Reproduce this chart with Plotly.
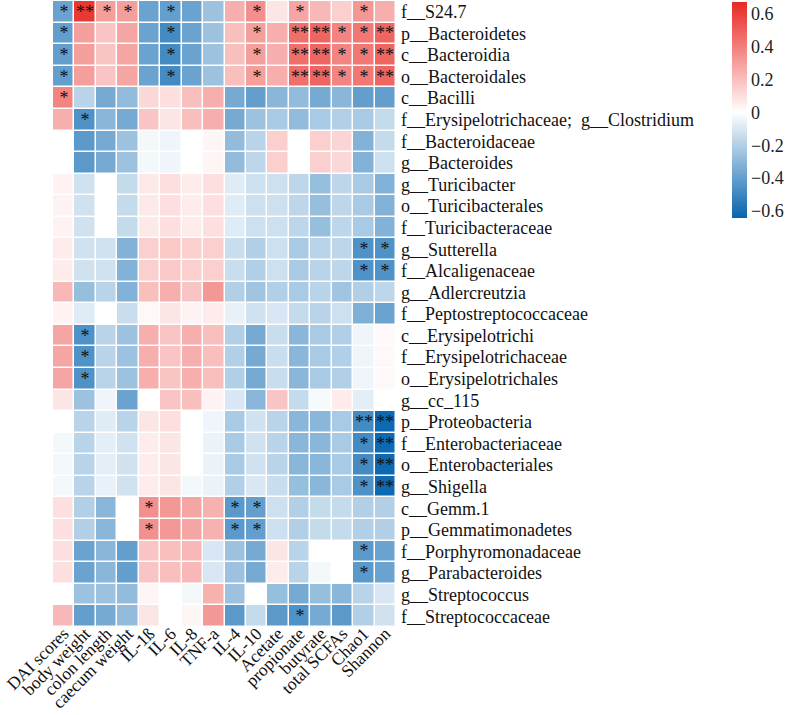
import plotly.graph_objects as go

columns = ["DAI scores", "body weight", "colon length", "caecum weight", "IL-1ß", "IL-6", "IL-8",
           "TNF-a", "IL-4", "IL-10", "Acetate", "propionate", "butyrate", "total SCFAs", "Chao1", "Shannon"]

rows = ["f__S24.7", "p__Bacteroidetes", "c__Bacteroidia", "o__Bacteroidales", "c__Bacilli",
        "f__Erysipelotrichaceae;\u00a0\u00a0g__Clostridium", "f__Bacteroidaceae", "g__Bacteroides",
        "g__Turicibacter", "o__Turicibacterales", "f__Turicibacteraceae", "g__Sutterella",
        "f__Alcaligenaceae", "g__Adlercreutzia", "f__Peptostreptococcaceae", "c__Erysipelotrichi",
        "f__Erysipelotrichaceae", "o__Erysipelotrichales", "g__cc_115", "p__Proteobacteria",
        "f__Enterobacteriaceae", "o__Enterobacteriales", "g__Shigella", "c__Gemm.1",
        "p__Gemmatimonadetes", "f__Porphyromonadaceae", "g__Parabacteroides",
        "g__Streptococcus", "f__Streptococcaceae"]

values = [
    [-0.38, 0.62, 0.30, 0.30, -0.38, -0.40, -0.38, -0.25, 0.25, 0.35, 0.08, 0.28, 0.22, 0.15, 0.32, 0.25],
    [-0.40, 0.30, 0.18, 0.28, -0.38, -0.48, -0.38, -0.25, 0.20, 0.30, 0.25, 0.45, 0.48, 0.38, 0.42, 0.48],
    [-0.40, 0.30, 0.18, 0.28, -0.38, -0.48, -0.38, -0.25, 0.20, 0.30, 0.25, 0.45, 0.48, 0.38, 0.42, 0.48],
    [-0.40, 0.30, 0.18, 0.28, -0.38, -0.48, -0.38, -0.25, 0.20, 0.30, 0.25, 0.45, 0.48, 0.38, 0.42, 0.48],
    [0.38, -0.18, -0.35, -0.28, 0.12, 0.10, 0.20, 0.25, -0.35, -0.40, -0.30, -0.28, -0.35, -0.30, -0.40, -0.40],
    [0.25, -0.45, -0.30, -0.35, 0.18, 0.08, 0.20, 0.25, -0.35, -0.25, -0.22, -0.28, -0.22, -0.20, -0.22, -0.15],
    [0.00, -0.42, -0.35, -0.25, -0.03, -0.04, 0.00, 0.03, -0.28, -0.18, 0.15, 0.00, 0.15, 0.13, -0.32, -0.15],
    [0.00, -0.42, -0.35, -0.25, -0.03, -0.04, 0.00, 0.03, -0.28, -0.17, 0.15, 0.00, 0.15, 0.12, -0.32, -0.13],
    [0.04, -0.12, 0.00, -0.15, 0.07, 0.10, 0.06, 0.10, -0.08, -0.13, -0.13, -0.17, -0.27, -0.17, -0.22, -0.32],
    [0.04, -0.12, 0.00, -0.15, 0.07, 0.10, 0.06, 0.10, -0.08, -0.13, -0.13, -0.17, -0.27, -0.17, -0.22, -0.32],
    [0.04, -0.12, 0.00, -0.15, 0.07, 0.10, 0.06, 0.10, -0.08, -0.13, -0.13, -0.17, -0.27, -0.17, -0.22, -0.32],
    [0.06, -0.12, -0.12, -0.32, 0.15, 0.17, 0.15, 0.15, -0.14, -0.20, -0.13, -0.22, -0.18, -0.17, -0.45, -0.45],
    [0.06, -0.12, -0.12, -0.32, 0.15, 0.17, 0.15, 0.15, -0.14, -0.20, -0.13, -0.22, -0.18, -0.17, -0.45, -0.45],
    [0.22, -0.27, -0.18, -0.32, 0.20, 0.25, 0.18, 0.32, -0.20, -0.24, -0.20, -0.22, -0.18, -0.24, -0.20, -0.17],
    [0.04, -0.08, 0.00, -0.14, 0.02, 0.08, 0.04, 0.06, -0.06, -0.12, -0.10, -0.15, -0.18, -0.13, -0.33, -0.38],
    [0.28, -0.45, -0.18, -0.25, 0.25, 0.18, 0.25, 0.20, -0.20, -0.35, -0.14, -0.30, -0.22, -0.20, -0.04, 0.02],
    [0.28, -0.45, -0.18, -0.25, 0.25, 0.18, 0.25, 0.20, -0.20, -0.35, -0.14, -0.30, -0.22, -0.20, -0.04, 0.02],
    [0.28, -0.45, -0.18, -0.25, 0.25, 0.18, 0.25, 0.20, -0.20, -0.35, -0.14, -0.30, -0.22, -0.20, -0.04, 0.02],
    [0.08, -0.25, -0.04, -0.38, 0.00, 0.18, 0.20, 0.04, -0.10, -0.30, 0.18, -0.15, -0.02, 0.06, -0.07, 0.00],
    [0.00, -0.18, -0.08, -0.18, 0.08, 0.10, 0.00, -0.04, -0.22, -0.12, -0.18, -0.30, -0.30, -0.22, -0.48, -0.62],
    [-0.03, -0.18, -0.07, -0.12, 0.06, 0.08, 0.00, -0.05, -0.22, -0.12, -0.18, -0.30, -0.30, -0.22, -0.48, -0.62],
    [-0.03, -0.18, -0.07, -0.12, 0.06, 0.08, 0.00, -0.05, -0.22, -0.12, -0.18, -0.30, -0.30, -0.22, -0.48, -0.62],
    [-0.03, -0.18, -0.06, -0.12, 0.06, 0.08, -0.03, -0.05, -0.20, -0.10, -0.14, -0.27, -0.30, -0.22, -0.45, -0.62],
    [0.10, -0.20, -0.30, 0.00, 0.35, 0.32, 0.28, 0.24, -0.42, -0.40, -0.13, -0.20, -0.15, -0.15, -0.20, -0.20],
    [0.10, -0.20, -0.30, 0.00, 0.35, 0.32, 0.28, 0.24, -0.42, -0.40, -0.13, -0.20, -0.15, -0.15, -0.20, -0.20],
    [0.10, -0.38, -0.30, -0.40, 0.18, 0.20, 0.22, -0.10, -0.25, -0.35, 0.08, -0.18, 0.00, 0.00, -0.42, -0.38],
    [0.10, -0.38, -0.30, -0.40, 0.18, 0.20, 0.22, -0.10, -0.25, -0.35, 0.06, -0.18, -0.03, 0.00, -0.42, -0.38],
    [0.00, -0.25, -0.25, -0.28, 0.03, 0.00, -0.03, 0.24, -0.25, 0.00, -0.27, -0.35, -0.27, -0.30, -0.18, -0.10],
    [0.22, -0.40, -0.35, -0.28, 0.08, 0.00, 0.03, 0.32, -0.42, -0.15, -0.42, -0.45, -0.35, -0.42, -0.20, -0.12],
]

# significance marks, one string per row ("." = none, "1" = *, "2" = **)
signif = [
    "1211.1...1.1..1.",
    "1....1...1.22112",
    "1....1...1.22112",
    "1....1...1.22112",
    "1...............",
    ".1..............",
    "................",
    "................",
    "................",
    "................",
    "................",
    "..............11",
    "..............11",
    "................",
    "................",
    ".1..............",
    ".1..............",
    ".1..............",
    "................",
    "..............22",
    "..............12",
    "..............12",
    "..............12",
    "....1...11......",
    "....1...11......",
    "..............1.",
    "..............1.",
    "................",
    "...........1....",
]
star_map = {".": "", "1": "*", "2": "**"}
stars = [[star_map[c] for c in s] for s in signif]

font_family = "Liberation Serif, Times New Roman, serif"

colorscale = [[0.0, "rgb(5,100,175)"], [0.4885, "rgb(255,255,255)"], [1.0, "rgb(232,40,35)"]]

fig = go.Figure(go.Heatmap(
    z=values, x=columns, y=rows,
    text=stars, texttemplate="%{text}",
    textfont=dict(family=font_family, size=18, color="#111"),
    colorscale=colorscale, zmin=-0.64, zmax=0.67,
    xgap=1.5, ygap=1.5,
    colorbar=dict(
        xref="container", yref="container",
        x=732 / 787, xanchor="left", y=1 - 2 / 715, yanchor="top",
        lenmode="pixels", len=216, thickness=15,
        xpad=0, ypad=0, outlinewidth=0,
        tickvals=[-0.6, -0.4, -0.2, 0, 0.2, 0.4, 0.6],
        tickfont=dict(family=font_family, size=18, color="#222"),
    ),
))

fig.update_layout(
    width=787, height=715,
    margin=dict(l=53, r=391, t=1, b=88),
    paper_bgcolor="white", plot_bgcolor="white",
    font=dict(family=font_family, size=18, color="#111"),
)
fig.update_xaxes(tickangle=-45, showgrid=False, zeroline=False, showline=False, ticks="",
                 tickmode="array", tickvals=columns, ticktext=columns, ticklabelstandoff=-8,
                 automargin=False, tickfont=dict(family=font_family, size=17.5, color="#111"))
fig.update_yaxes(side="right", autorange="reversed", showgrid=False, zeroline=False, showline=False,
                 tickmode="array", tickvals=rows, ticktext=rows,
                 ticks="", automargin=False, ticklabelstandoff=4,
                 tickfont=dict(family=font_family, size=18, color="#111"))

fig.write_html("out.html", config={"displayModeBar": False},
               post_script="document.body.style.margin='0';document.body.style.overflow='hidden';")
